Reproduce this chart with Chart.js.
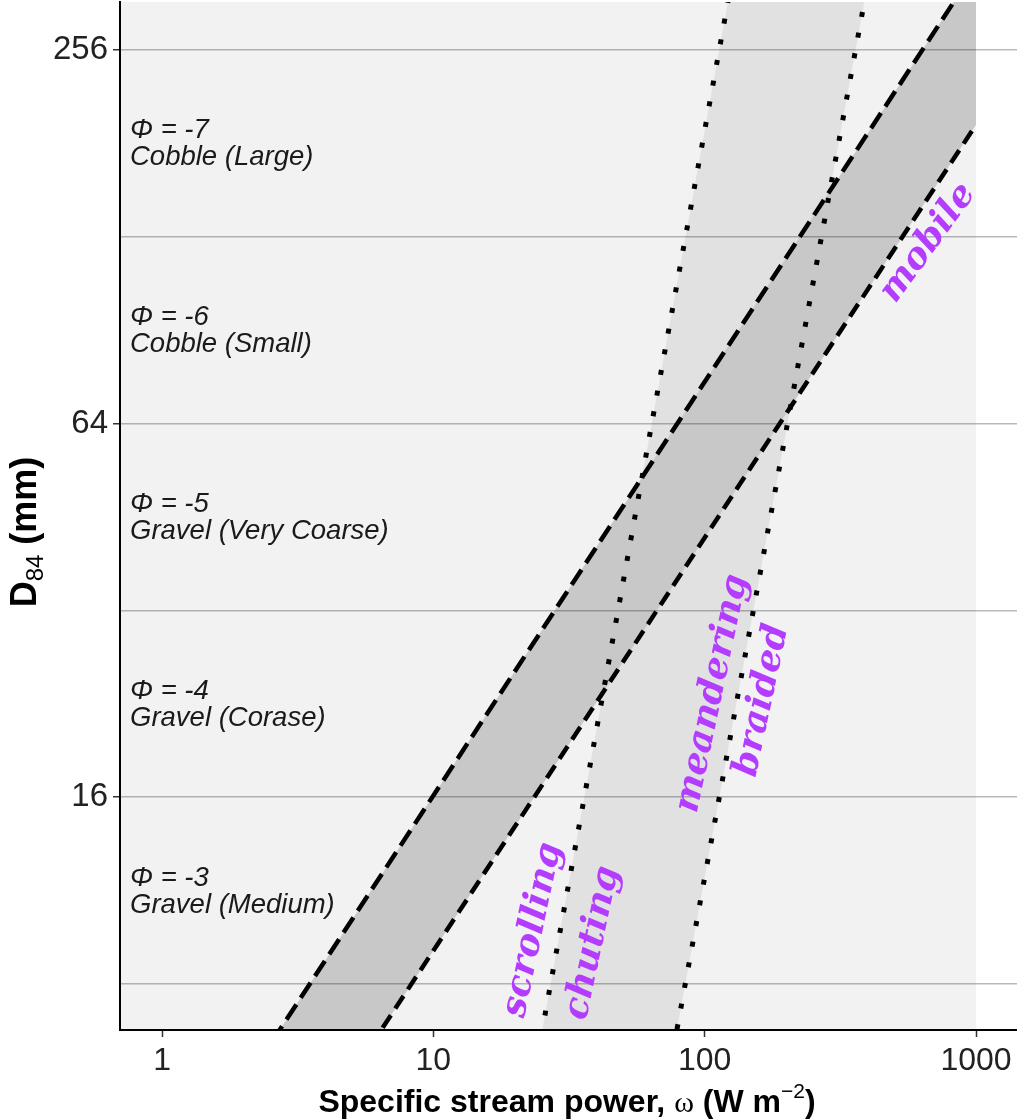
<!DOCTYPE html>
<html>
<head>
<meta charset="utf-8">
<script src="https://cdn.jsdelivr.net/npm/chart.js@4.4.1/dist/chart.umd.min.js"></script>
<style>
  html, body { margin: 0; padding: 0; background: #fff; }
  #wrap { width: 1017px; height: 1119px; }
</style>
</head>
<body>
<div id="wrap"><canvas id="streamChart" width="1017" height="1119"></canvas></div>
<script>
// axis ticks
const xTicks = [1, 10, 100, 1000];
const yGrid = [8, 16, 32, 64, 128, 256];
const yTickLabels = [16, 64, 256];

// dark band, dashed boundaries (omega, D84), read at the ends
const bandOmega = [2, 1000];
const upperDashD = [5.5, 347];
const lowerDashD = [3.1, 194];

// light band, dotted boundaries
const dotOmega = [20, 450];
const scrollChuteD = [3.85, 7260];
const meanderBraidD = [0.25, 438];

// shaded panel stops at omega = 1000
const shadeOmega = [0.5, 1000];
const shadeD = [1000, 1000];

// grain size classes, mid-way between grid lines
const phiLabels = ['Φ = -7', 'Φ = -6', 'Φ = -5', 'Φ = -4', 'Φ = -3'];
const classLabels = ['Cobble (Large)', 'Cobble (Small)', 'Gravel (Very Coarse)', 'Gravel (Corase)', 'Gravel (Medium)'];
const classD = [181, 90.5, 45.3, 22.6, 11.3];

// regime names
const regimeLabels = ['scrolling', 'chuting', 'meandering', 'braided', 'mobile'];
const regimeOmega = [23.3, 38.7, 107, 163, 666];
const regimeD = [9.77, 9.31, 23.5, 22.9, 125];

const pts = (xs, ys) => xs.map((x, i) => ({ x: x, y: ys[i] }));

const SANS = '"Liberation Sans", Arial, sans-serif';
const hidden = { borderColor: 'transparent', borderWidth: 0, pointRadius: 0 };

const textLayer = {
    id: 'textLayer',
    afterDraw(chart) {
        const { ctx, scales: { x, y }, chartArea } = chart;
        ctx.save();

        // grain size classes
        ctx.fillStyle = '#1a1a1a';
        ctx.font = 'italic 27.5px ' + SANS;
        ctx.textAlign = 'left';
        ctx.textBaseline = 'alphabetic';
        classD.forEach((d, i) => {
            const py = y.getPixelForValue(d);
            ctx.fillText(phiLabels[i], chartArea.left + 10, py - 5);
            ctx.fillText(classLabels[i], chartArea.left + 10, py + 22);
        });

        // regime names
        ctx.fillStyle = '#b43cff';
        ctx.font = 'italic bold 36px "DejaVu Serif", serif';
        ctx.textAlign = 'center';
        ctx.textBaseline = 'middle';
        regimeLabels.forEach((t, i) => {
            ctx.save();
            ctx.translate(x.getPixelForValue(regimeOmega[i]), y.getPixelForValue(regimeD[i]));
            ctx.rotate((t === 'mobile' ? -54 : -78) * Math.PI / 180);
            ctx.fillText(t, 0, 0);
            ctx.restore();
        });

        // axis titles with sub/superscripts
        ctx.fillStyle = '#000';
        ctx.textAlign = 'left';
        ctx.textBaseline = 'alphabetic';
        const drawRun = (parts, cx, cy, angle) => {
            let total = 0;
            parts.forEach(p => { ctx.font = p[1]; total += ctx.measureText(p[0]).width; });
            ctx.save();
            ctx.translate(cx, cy);
            ctx.rotate(angle);
            let pos = -total / 2;
            parts.forEach(p => {
                ctx.font = p[1];
                ctx.fillText(p[0], pos, p[2]);
                pos += ctx.measureText(p[0]).width;
            });
            ctx.restore();
        };
        drawRun([
            ['Specific stream power, ', 'bold 32px ' + SANS, 0],
            ['ω', '30px "Liberation Serif", serif', 0],
            [' (W m', 'bold 32px ' + SANS, 0],
            ['−2', '21px ' + SANS, -14],
            [')', 'bold 32px ' + SANS, 0]
        ], 567, 1112, 0);
        drawRun([
            ['D', 'bold 36px ' + SANS, 0],
            ['84', '24px ' + SANS, 7],
            [' (mm)', 'bold 36px ' + SANS, 0]
        ], 36, 532, -Math.PI / 2);

        ctx.restore();
    }
};

const dotted = { borderColor: '#000', borderWidth: 5, borderDash: [5, 16], pointRadius: 0, fill: false, order: 1 };

const config = {
    type: 'line',
    data: {
        datasets: [
            { ...hidden, data: pts(shadeOmega, shadeD), fill: 'start', backgroundColor: '#f2f2f2', order: 5 },
            { ...hidden, data: pts(dotOmega, scrollChuteD), fill: '+1', backgroundColor: '#e1e1e1', order: 4 },
            { ...hidden, data: pts(dotOmega, meanderBraidD), fill: false, order: 4 },
            { ...hidden, data: pts(bandOmega, upperDashD), fill: '+1', backgroundColor: '#c8c8c8', order: 3 },
            { ...hidden, data: pts(bandOmega, lowerDashD), fill: false, order: 3 },
            { ...dotted, data: pts(dotOmega, scrollChuteD) },
            { ...dotted, data: pts(dotOmega, meanderBraidD) },
            { data: pts(bandOmega, upperDashD), borderColor: '#000', borderWidth: 4.5, borderDash: [18, 8], pointRadius: 0, fill: false, order: 1 },
            { data: pts(bandOmega, lowerDashD), borderColor: '#000', borderWidth: 4.5, borderDash: [15, 8], pointRadius: 0, fill: false, order: 1 }
        ]
    },
    options: {
        responsive: false,
        devicePixelRatio: 1,
        animation: false,
        layout: { padding: { top: 2, right: 0, left: 0, bottom: 0 } },
        plugins: {
            legend: { display: false },
            tooltip: { enabled: false }
        },
        scales: {
            x: {
                type: 'logarithmic',
                min: 0.713,
                max: 1416,
                afterBuildTicks: (s) => { s.ticks = xTicks.map(v => ({ value: v })); },
                afterFit: (s) => { s.height = 89; s.paddingLeft = 0; s.paddingRight = 0; },
                ticks: {
                    color: '#222',
                    font: { family: SANS, size: 32 },
                    padding: 5,
                    maxRotation: 0,
                    autoSkip: false,
                    callback: (v) => String(v)
                },
                grid: { drawOnChartArea: false, tickLength: 7, tickColor: '#333', tickWidth: 1.5 },
                border: { color: '#000', width: 2, z: 2 }
            },
            y: {
                type: 'logarithmic',
                min: 6.74,
                max: 306,
                afterBuildTicks: (s) => { s.ticks = yGrid.map(v => ({ value: v })); },
                afterFit: (s) => { s.width = 120; s.paddingTop = 0; s.paddingBottom = 0; },
                ticks: {
                    color: '#222',
                    font: { family: SANS, size: 33 },
                    padding: 5,
                    autoSkip: false,
                    callback: (v) => yTickLabels.includes(v) ? String(v) : ''
                },
                grid: {
                    color: 'rgba(0,0,0,0.27)',
                    lineWidth: 1.5,
                    tickLength: 7,
                    tickWidth: 1.5,
                    tickColor: (c) => (c.tick && yTickLabels.includes(c.tick.value)) ? '#333' : 'rgba(0,0,0,0)',
                    z: 1
                },
                border: { color: '#000', width: 2, z: 2 }
            }
        }
    },
    plugins: [textLayer]
};

const chart = new Chart(document.getElementById('streamChart'), config);
</script>
</body>
</html>
